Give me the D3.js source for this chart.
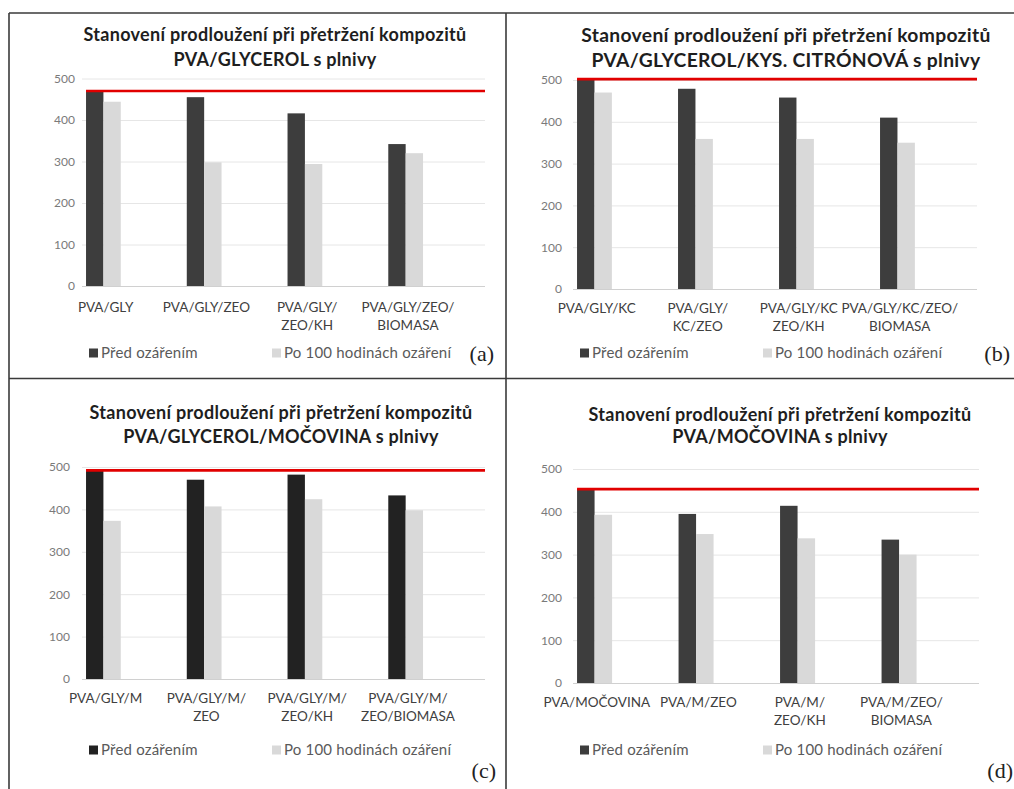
<!DOCTYPE html>
<html>
<head>
<meta charset="utf-8">
<script src="https://cdn.jsdelivr.net/npm/d3@7"></script>
<style>
  html, body { margin: 0; padding: 0; background: #fff; }
  svg { display: block; font-family: Lato, "Open Sans", sans-serif; }
</style>
</head>
<body>
<svg id="chart" width="1014" height="789"></svg>
<script>
const SERIES = ['Před ozářením', 'Po 100 hodinách ozáření'];
const Y_TICKS = [0, 100, 200, 300, 400, 500];
const TITLE_LINE1 = 'Stanovení prodloužení při přetržení kompozitů';
const titlesLine2 = [
  'PVA/GLYCEROL s plnivy',
  'PVA/GLYCEROL/KYS. CITRÓNOVÁ s plnivy',
  'PVA/GLYCEROL/MOČOVINA s plnivy',
  'PVA/MOČOVINA s plnivy',
];
const tags = ['(a)', '(b)', '(c)', '(d)'];

const categoriesA = ['PVA/GLY', 'PVA/GLY/ZEO', 'PVA/GLY/\nZEO/KH', 'PVA/GLY/ZEO/\nBIOMASA'];
const beforeA = [470, 455, 416, 342];
const afterA = [444, 298, 294, 320];

const categoriesB = ['PVA/GLY/KC', 'PVA/GLY/\nKC/ZEO', 'PVA/GLY/KC\nZEO/KH', 'PVA/GLY/KC/ZEO/\nBIOMASA'];
const beforeB = [502, 479, 458, 410];
const afterB = [470, 359, 359, 350];

const categoriesC = ['PVA/GLY/M', 'PVA/GLY/M/\nZEO', 'PVA/GLY/M/\nZEO/KH', 'PVA/GLY/M/\nZEO/BIOMASA'];
const beforeC = [492, 470, 482, 433];
const afterC = [373, 407, 424, 398];

const categoriesD = ['PVA/MOČOVINA', 'PVA/M/ZEO', 'PVA/M/\nZEO/KH', 'PVA/M/ZEO/\nBIOMASA'];
const beforeD = [453, 395, 414, 335];
const afterD = [393, 348, 338, 300];

const panelData = [
  { cats: categoriesA, before: beforeA, after: afterA },
  { cats: categoriesB, before: beforeB, after: afterB },
  { cats: categoriesC, before: beforeC, after: afterC },
  { cats: categoriesD, before: beforeD, after: afterD },
];

// where each small chart sits on the page
const layout = [
  { left: 82, right: 485, base: 286, top: 78.5, tickX: 75, titleX: 275, titleY: 35, titleGap: 25, titleSize: 18, labelY: 307, legendY: 353, tagX: 494, tagY: 353, dark: '#3d3d3d' },
  { left: 573, right: 977, base: 289, top: 80, tickX: 562, titleX: 786, titleY: 35, titleGap: 25, titleSize: 19.3, labelY: 308, legendY: 353, tagX: 1010, tagY: 353, dark: '#3d3d3d' },
  { left: 82, right: 485, base: 679, top: 467, tickX: 70, titleX: 281, titleY: 413, titleGap: 24, titleSize: 18, labelY: 698, legendY: 750, tagX: 496, tagY: 770, dark: '#222222' },
  { left: 573, right: 979, base: 683, top: 469, tickX: 562, titleX: 780, titleY: 415, titleGap: 22, titleSize: 18, labelY: 702, legendY: 750, tagX: 1013, tagY: 770, dark: '#3d3d3d' },
];
const LIGHT = '#d9d9d9';

const svg = d3.select('#chart');

// frame lines of the figure grid
const frame = svg.append('g').attr('stroke', '#3a3a3a').attr('stroke-width', 1.6);
frame.append('line').attr('x1', 9).attr('x2', 1014).attr('y1', 13).attr('y2', 13);
frame.append('line').attr('x1', 9).attr('x2', 9).attr('y1', 13).attr('y2', 789);
frame.append('line').attr('x1', 506).attr('x2', 506).attr('y1', 13).attr('y2', 789);
frame.append('line').attr('x1', 9).attr('x2', 1014).attr('y1', 378.5).attr('y2', 378.5);

panelData.forEach((d, i) => drawPanel(d, layout[i], i));

function drawPanel(d, L, i) {
  const g = svg.append('g');
  const rows = d.cats.map((c, k) => ({ cat: c, values: [d.before[k], d.after[k]] }));

  const x0 = d3.scaleBand().domain(d.cats).range([L.left, L.right]).padding(0);
  const bw = x0.bandwidth();
  const x1 = d3.scaleBand().domain(SERIES).range([bw * 0.04, bw * 0.385]).padding(0);
  const y = d3.scaleLinear().domain([0, 500]).range([L.base, L.top]);
  const colors = d3.scaleOrdinal().domain(SERIES).range([L.dark, LIGHT]);

  // title
  const t = g.append('text')
    .attr('text-anchor', 'middle').attr('font-weight', 700)
    .attr('font-size', L.titleSize + 'px').attr('letter-spacing', '0.3px').attr('fill', '#1e1e1e');
  t.append('tspan').attr('x', L.titleX).attr('y', L.titleY).attr('dy', '0.35em').text(TITLE_LINE1);
  t.append('tspan').attr('x', L.titleX).attr('y', L.titleY + L.titleGap).attr('dy', '0.35em').text(titlesLine2[i]);

  // y axis: gridlines + labels
  g.append('g')
    .attr('transform', `translate(${L.left},0)`)
    .call(d3.axisLeft(y).tickValues(Y_TICKS).tickSize(-(L.right - L.left)).tickFormat(d3.format('d')))
    .call(a => a.select('.domain').remove())
    .call(a => a.selectAll('.tick line').attr('stroke', v => v === 0 ? '#d0d0d0' : '#e6e6e6'))
    .call(a => a.selectAll('.tick text')
      .attr('x', L.tickX - L.left).attr('fill', '#7a7a7a')
      .attr('font-size', '12px').attr('font-family', 'Lato, sans-serif'));

  // bars
  const grp = g.selectAll('.cat').data(rows).join('g')
    .attr('transform', r => `translate(${x0(r.cat)},0)`);
  grp.selectAll('rect').data(r => SERIES.map((s, k) => ({ s, v: r.values[k] }))).join('rect')
    .attr('x', b => x1(b.s)).attr('width', x1.bandwidth())
    .attr('y', b => y(b.v)).attr('height', b => y(0) - y(b.v))
    .attr('fill', b => colors(b.s));

  // red reference line at the first sample's value
  g.append('line')
    .attr('x1', x0(d.cats[0]) + x1(SERIES[0])).attr('x2', L.right)
    .attr('y1', y(d.before[0])).attr('y2', y(d.before[0]))
    .attr('stroke', '#e10000').attr('stroke-width', 2.6);

  // category labels
  g.selectAll('.cat-label').data(d.cats).join('text')
    .attr('class', 'cat-label')
    .attr('x', c => x0(c) + bw * 0.235).attr('y', L.labelY)
    .attr('text-anchor', 'middle').attr('font-size', '13.5px').attr('fill', '#404040')
    .each(function (c) {
      const el = d3.select(this);
      c.split('\n').forEach((line, k) => {
        el.append('tspan').attr('x', x0(c) + bw * 0.235)
          .attr('dy', k === 0 ? '0.35em' : '1.35em').text(line);
      });
    });

  // legend
  const legX = [L.left + 7, L.left + 190];
  const leg = g.selectAll('.leg').data(SERIES).join('g')
    .attr('transform', (s, k) => `translate(${legX[k]},${L.legendY})`);
  leg.append('rect').attr('x', 0).attr('y', -4.5).attr('width', 9).attr('height', 9)
    .attr('fill', s => colors(s));
  leg.append('text').attr('x', 12).attr('dy', '0.35em')
    .attr('font-size', '15px').attr('letter-spacing', '0.2px')
    .attr('fill', '#5a5a5a').text(s => s);

  // panel tag
  g.append('text')
    .attr('x', L.tagX).attr('y', L.tagY).attr('dy', '0.35em')
    .attr('text-anchor', 'end').attr('font-family', '"Liberation Serif", "DejaVu Serif", serif')
    .attr('font-size', '22px').attr('fill', '#222').text(tags[i]);
}
</script>
</body>
</html>
